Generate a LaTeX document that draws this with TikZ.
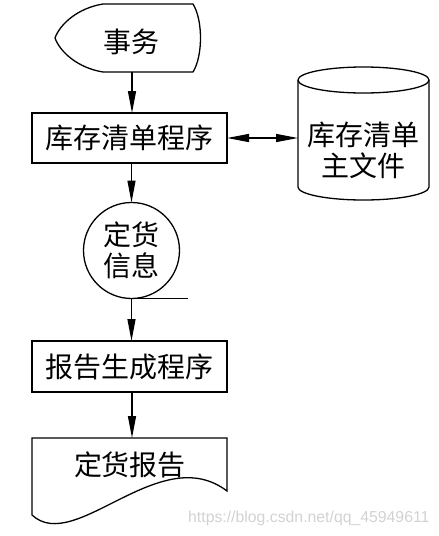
\documentclass[tikz,border=0pt]{standalone}
\usepackage{fontspec}
\setmainfont{Liberation Sans}
\newfontfamily\cjk{Noto Sans CJK SC}
\usetikzlibrary{arrows.meta}
\tikzset{
  line/.style={line width=1.3pt, black},
  arr/.style={line, -{Triangle[length=22pt,width=8pt]}},
  darr/.style={line, {Triangle[length=22pt,width=8pt]}-{Triangle[length=22pt,width=8pt]}},
  lbl/.style={font=\cjk\fontsize{28}{31}\selectfont, align=center, inner sep=0pt},
  procbox/.style={line, draw, rectangle, minimum width=195pt, minimum height=50pt, inner sep=0pt, outer sep=0pt, font=\cjk\fontsize{28}{31}\selectfont},
  conn/.style={line, draw, circle, minimum size=96pt, inner sep=0pt, outer sep=0pt, align=center, font=\cjk\fontsize{28}{31}\selectfont},
  wmark/.style={font=\fontsize{15.8}{18}\selectfont, text=gray!35, inner sep=0pt, anchor=west}
}
\begin{document}
\begin{tikzpicture}[x=1pt, y=-1pt]
\useasboundingbox (0,0) rectangle (439,536);
% display shape
\draw[line] (103,4) -- (193,4) .. controls (203,20) and (203,56) .. (193,72) -- (103,72)
  .. controls (78,68) and (60,52) .. (55,38) .. controls (60,24) and (78,8) .. (103,4) -- cycle;
\node[lbl] (disp) at (131,42) {事务};
\coordinate (dispS) at (132,72);
% program box
\node[procbox] (box1) at (129.5,138) {库存清单程序};
% cylinder
\draw[line] (363.5,80) ellipse [x radius=65.5pt, y radius=13pt];
\draw[line] (298,80) -- (298,187) arc[start angle=180, end angle=360, x radius=65.5pt, y radius=13pt] -- (429,80);
\node[lbl] (cyl) at (363,150) {库存清单\\主文件};
\coordinate (cylW) at (298,138);
% connector circle
\node[conn] (circ) at (131.5,250.5) {定货\\信息};
\coordinate (tail) at (188,298.5);
\draw[line] (circ.south) -- (tail);
% report box
\node[procbox, minimum height=51pt] (box2) at (129.5,366.5) {报告生成程序};
% document
\draw[line] (32,438) -- (227,438) -- (227,491) .. controls (160,440) and (75,555) .. (32,515) -- cycle;
\node[lbl] (doc) at (130,465) {定货报告};
\coordinate (docN) at (132,438);
% connectors
\draw[arr] (dispS) -- (dispS |- box1.north);
\draw[darr] (box1.east) -- (cylW);
\draw[arr] (circ.north |- box1.south) -- (circ.north);
\draw[arr] (circ.south) -- (circ.south |- box2.north);
\draw[arr] (docN |- box2.south) -- (docN);
% watermark
\node[wmark] (wm) at (188,518) {https://blog.csdn.net/qq\_45949611};
\end{tikzpicture}
\end{document}
